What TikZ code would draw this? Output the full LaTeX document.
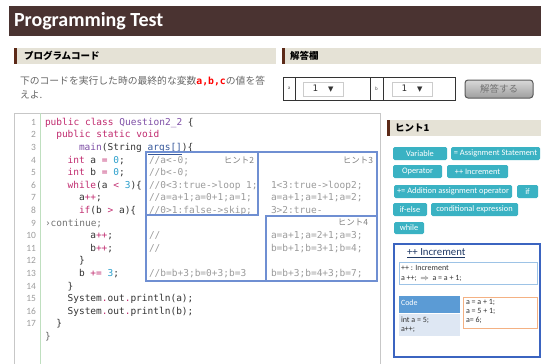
\documentclass[tikz,border=0pt]{standalone}
\usepackage{fontspec}
\setmainfont{Carlito}
\newfontfamily\cjk{Noto Sans CJK JP}
\newfontfamily\code{DejaVu Sans Mono}
\newfontfamily\dejavu{DejaVu Sans}
\definecolor{hdr}{HTML}{4A3331}
\definecolor{barbg}{HTML}{E5E2D6}
\definecolor{stripe}{HTML}{5C2A18}
\definecolor{kwcol}{HTML}{C02A6E}
\definecolor{clscol}{HTML}{7E4FA6}
\definecolor{numcol}{HTML}{2C9FCB}
\definecolor{txtcol}{HTML}{333333}
\definecolor{cmtcol}{HTML}{9A9A9A}
\definecolor{lngray}{HTML}{9C9C9C}
\definecolor{hintcol}{HTML}{6F8FD2}
\definecolor{tealc}{HTML}{3AB2C3}
\definecolor{incb}{HTML}{3B64C0}
\definecolor{lblue}{HTML}{9DC3E6}
\definecolor{cblue}{HTML}{5B9BD5}
\definecolor{cbody}{HTML}{DEE7F3}
\definecolor{orng}{HTML}{F4B183}
\definecolor{navyc}{HTML}{1F3864}
\definecolor{argcol}{HTML}{35579A}
\newcommand\kwc[1]{\textcolor{kwcol}{#1}}
\newcommand\clc[1]{\textcolor{clscol}{#1}}
\newcommand\nmc[1]{\textcolor{numcol}{#1}}
\begin{document}
\begin{tikzpicture}[x=1pt,y=-1pt,
  every node/.style={inner sep=0pt,outer sep=0pt},
  codel/.style={anchor=base west,font=\code\fontsize{9.5}{10}\selectfont,text=txtcol},
  cmtl/.style={codel,text=cmtcol},
  lnum/.style={anchor=base east,font=\fontsize{9.5}{10}\selectfont,text=lngray},
  hintbox/.style={draw=hintcol,line width=1.1pt},
  hlabel/.style={anchor=east,font=\cjk\fontsize{8.5}{9}\selectfont,text=gray},
  secbar/.style={fill=barbg},
  sectext/.style={anchor=west,font=\cjk\bfseries\fontsize{9.5}{10}\selectfont,text=black},
  tbtn/.style={fill=tealc,rounded corners=1.5pt,text=white,font=\fontsize{8.4}{9}\selectfont,minimum height=13pt},
  ddbox/.style={draw=black!20,fill=white,minimum width=40pt,minimum height=14pt,font=\code\fontsize{9}{9}\selectfont,text=txtcol},
  small/.style={anchor=west,font=\fontsize{8}{8}\selectfont,text=txtcol}]
\useasboundingbox (0,0) rectangle (541,364);
% header
\fill[hdr] (9,6) rectangle (541,36);
\node[anchor=west,font=\bfseries\fontsize{20}{22}\selectfont,text=white] (title) at (14,21.5) {Programming Test};
% section bars
\fill[secbar] (14,48) rectangle (276,64);
\fill[stripe] (14,48) rectangle (17,64);
\node[sectext] (sec1) at (24,56) {プログラムコード};
\fill[secbar] (282,48) rectangle (541,64);
\fill[stripe] (282,48) rectangle (285,64);
\node[sectext] (sec2) at (290,56) {解答欄};
% instruction
\node[anchor=west,font=\cjk\fontsize{9.8}{10}\selectfont,text=black!60] (inst1) at (20,81) {下のコードを実行した時の最終的な変数{\code\bfseries\color{red}a,b,c}の値を答};
\node[anchor=west,font=\cjk\fontsize{9.8}{10}\selectfont,text=black!60] (inst2) at (20,95) {えよ.};
% answer box
\draw[black!80,line width=0.8pt] (283,77) rectangle (455,100);
\draw[black!80,line width=0.8pt] (295,77) -- (295,100) (370,77) -- (370,100) (383,77) -- (383,100);
\node[font=\fontsize{5}{5}\selectfont,text=black!70] (la) at (289,88.5) {a};
\node[font=\fontsize{5}{5}\selectfont,text=black!70] (lb) at (376.5,88.5) {b};
\node[ddbox] (dda) at (323,89) {1\hspace{10pt}{\dejavu\fontsize{7}{7}\selectfont ▼}};
\node[ddbox] (ddb) at (412,89) {1\hspace{10pt}{\dejavu\fontsize{7}{7}\selectfont ▼}};
\node[draw=black!65,line width=1pt,rounded corners=3pt,top color=black!15,bottom color=black!38,minimum width=68pt,minimum height=18pt,font=\cjk\fontsize{9.5}{10}\selectfont,text=black!55] (submit) at (499,89) {解答する};
% code box
\draw[black!22,line width=1pt] (14,113) rectangle (380,370);
\draw[green!50!black!25!white,line width=1pt] (40,113) -- (40,370);
% line numbers
\foreach \n in {1,...,17} {
  \node[lnum] (ln\n) at (36,{122+(\n-1)*12.6+3.3}) {\n};
}
% code lines
\node[codel] (c1) at (45,125.3) {\kwc{public class} \clc{Question2\_2} \{};
\node[codel] (c2) at (56.3,137.9) {\kwc{public static void}};
\node[codel] (c3) at (79,150.5) {\clc{main}(String \textcolor{argcol}{\underline{args[]}})\{};
\node[codel] (c4) at (67.6,163.1) {\kwc{int} a \kwc{=} \nmc{0};};
\node[codel] (c5) at (67.6,175.7) {\kwc{int} b \kwc{=} \nmc{0};};
\node[codel] (c6) at (67.6,188.3) {\kwc{while}(a \kwc{<} \nmc{3})\{};
\node[codel] (c7) at (79,200.9) {a\kwc{++};};
\node[codel] (c8) at (79,213.5) {\kwc{if}(b \kwc{>} a)\{};
\node[codel,text=black!55] (c9) at (45,226.1) {›continue;};
\node[codel] (c10) at (90.3,238.7) {a\kwc{++};};
\node[codel] (c11) at (90.3,251.3) {b\kwc{++};};
\node[codel] (c12) at (79,263.9) {\}};
\node[codel] (c13) at (79,276.5) {b \kwc{+=} \nmc{3};};
\node[codel] (c14) at (67.6,289.1) {\}};
\node[codel] (c15) at (67.6,301.7) {System\kwc{.}out\kwc{.}println(a);};
\node[codel] (c16) at (67.6,314.3) {System\kwc{.}out\kwc{.}println(b);};
\node[codel] (c17) at (56.3,326.9) {\}};
\node[codel,text=black!60] (c18) at (45,339.5) {\}};
% hint boxes
\draw[hintbox] (146,152) rectangle (377,281);
\draw[hintbox] (146,152) rectangle (258,215);
\draw[hintbox] (266,216) rectangle (377,281);
\node[hlabel] (h2) at (254,160) {ヒント2};
\node[hlabel] (h3) at (373,160) {ヒント3};
\node[hlabel] (h4) at (368,222) {ヒント4};
% comments
\node[cmtl] (m4) at (149,163.1) {//a<-0;};
\node[cmtl] (m5) at (149,175.7) {//b<-0;};
\node[cmtl] (m6) at (149,188.3) {//0<3:true->loop 1;};
\node[cmtl] (m7) at (149,200.9) {//a=a+1;a=0+1;a=1;};
\node[cmtl] (m8) at (149,213.5) {//0>1:false->skip;};
\node[cmtl] (m10) at (149,238.7) {//};
\node[cmtl] (m11) at (149,251.3) {//};
\node[cmtl] (m13) at (149,276.5) {//b=b+3;b=0+3;b=3};
\node[cmtl] (n6) at (271,188.3) {1<3:true->loop2;};
\node[cmtl] (n7) at (271,200.9) {a=a+1;a=1+1;a=2;};
\node[cmtl] (n8) at (271,213.5) {3>2:true-};
\node[cmtl] (n10) at (271,238.7) {a=a+1;a=2+1;a=3;};
\node[cmtl] (n11) at (271,251.3) {b=b+1;b=3+1;b=4;};
\node[cmtl] (n13) at (271,276.5) {b=b+3;b=4+3;b=7;};
% hint 1 panel
\fill[secbar] (387,120) rectangle (541,136);
\fill[stripe] (387,120) rectangle (390,136);
\node[sectext] (sec3) at (395,128) {ヒント1};
\node[tbtn,minimum width=54pt] (bvar) at (420,153.5) {Variable};
\node[tbtn,minimum width=89pt] (bassign) at (495.5,153.5) {= Assignment Statement};
\node[tbtn,minimum width=49pt] (bop) at (417.5,171.5) {Operator};
\node[tbtn,minimum width=61pt] (binc) at (477.5,171.5) {++ Increment};
\node[tbtn,minimum width=118pt] (badd) at (453,191.5) {+= Addition assignment operator};
\node[tbtn,minimum width=21pt] (bif) at (527.5,191.5) {if};
\node[tbtn,minimum width=34pt] (bifelse) at (410,209.5) {if-else};
\node[tbtn,minimum width=87pt] (bcond) at (474.5,209.5) {conditional expression};
\node[tbtn,minimum width=30pt,minimum height=12pt] (bwhile) at (409,228) {while};
% increment panel
\draw[incb,line width=2pt] (393.5,244) rectangle (539.5,357);
\node[anchor=west,font=\fontsize{10.8}{12}\selectfont,text=navyc] (inctitle) at (407,253) {\underline{++ Increment}};
\draw[lblue,line width=1pt] (399,262) rectangle (537,284);
\node[small] (inc1) at (401,268) {++ : Increment};
\node[small] (inc2) at (401,278.5) {a ++;\ \ $\Rightarrow$\ \ a = a + 1;};
\fill[cblue] (399,296) rectangle (460,313);
\fill[cbody] (399,313.5) rectangle (460,336);
\node[small,text=white] (codeh) at (401,303) {Code};
\node[small] (codeb1) at (401,320) {int a = 5;};
\node[small] (codeb2) at (401,330) {a++;};
\draw[orng,line width=1pt] (463,297) rectangle (537,328);
\node[small] (o1) at (466,302.5) {a = a + 1;};
\node[small] (o2) at (466,311.5) {a = 5 + 1;};
\node[small] (o3) at (466,320.5) {a= 6;};
\end{tikzpicture}
\end{document}
